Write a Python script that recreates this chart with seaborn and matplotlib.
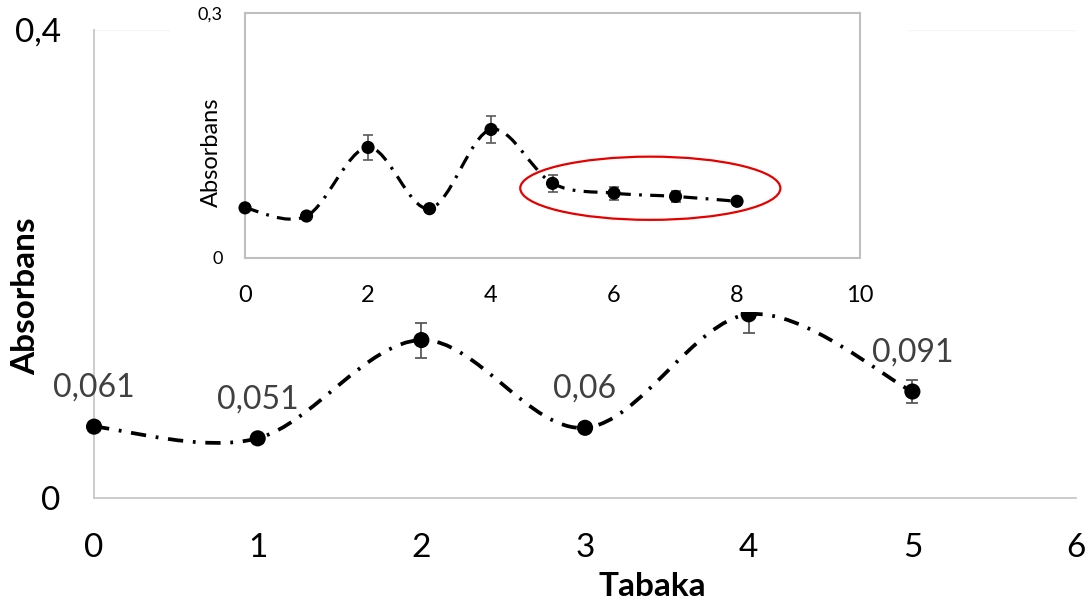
import matplotlib
matplotlib.use("Agg")
import matplotlib.pyplot as plt
import seaborn as sns
from matplotlib.path import Path
from matplotlib.patches import PathPatch, Ellipse, Rectangle

# main chart data (Tabaka vs Absorbans)
main_x = [0, 1, 2, 3, 4, 5]
main_y = [0.061, 0.051, 0.135, 0.060, 0.157, 0.091]
main_err = [0.004, 0.004, 0.015, 0.004, 0.016, 0.010]
main_show_label = [True, True, False, True, False, True]
main_xticks = [0, 1, 2, 3, 4, 5, 6]
main_yticks = [0, 0.4]
main_yticklabels = ["0", "0,4"]

# inset chart data
ins_x = [0, 1, 2, 3, 4, 5, 6, 7, 8]
ins_y = [0.061, 0.051, 0.135, 0.060, 0.157, 0.091, 0.079, 0.075, 0.069]
ins_err = [0.003, 0.003, 0.015, 0.003, 0.017, 0.010, 0.008, 0.007, 0.004]
ins_xticks = [0, 2, 4, 6, 8, 10]
ins_yticks = [0, 0.3]
ins_yticklabels = ["0", "0,3"]


def smooth_path(xs, ys):
    # Excel style smoothed line as cubic bezier segments
    pts = list(zip(xs, ys))
    n = len(pts)
    verts = [pts[0]]
    codes = [Path.MOVETO]
    for i in range(n - 1):
        p0 = pts[max(i - 1, 0)]
        p1 = pts[i]
        p2 = pts[i + 1]
        p3 = pts[min(i + 2, n - 1)]
        c1 = (p1[0] + (p2[0] - p0[0]) / 6, p1[1] + (p2[1] - p0[1]) / 6)
        c2 = (p2[0] - (p3[0] - p1[0]) / 6, p2[1] - (p3[1] - p1[1]) / 6)
        verts += [c1, c2, p2]
        codes += [Path.CURVE4] * 3
    return Path(verts, codes)


sns.set_theme(style="white")
plt.rcParams["font.family"] = ["Lato", "DejaVu Sans"]
plt.rcParams["lines.scale_dashes"] = False

fig = plt.figure(figsize=(10.91, 6.06), dpi=100)

# ---------------- main axes ----------------
ax = fig.add_axes([0.0862, 0.1782, 0.9001, 0.7723])
ax.set_xlim(0, 6)
ax.set_ylim(0, 0.4)
ax.axhline(0.4, color="#f6f6f6", lw=1, zorder=0)

ax.add_patch(PathPatch(smooth_path(main_x, main_y), fill=False, ec="black",
                       lw=2.7, linestyle=(0, (11, 7, 2, 7)), zorder=3))
ax.errorbar(main_x, main_y, yerr=main_err, fmt="none", ecolor="#595959",
            elinewidth=1.3, capsize=4, capthick=1.3, zorder=2)
sns.scatterplot(x=main_x, y=main_y, ax=ax, color="black", s=135,
                edgecolor="none", zorder=4, legend=False, clip_on=False)

for xv, yv, show in zip(main_x, main_y, main_show_label):
    if show:
        ax.annotate(f"{yv:g}".replace(".", ","), (xv, yv), xytext=(0, 28),
                    textcoords="offset points", ha="center", va="center",
                    fontsize=23, color="#404040")

ax.set_xticks(main_xticks)
ax.set_xticklabels([str(t) for t in main_xticks])
ax.set_yticks(main_yticks)
ax.set_yticklabels(main_yticklabels)
ax.tick_params(axis="x", length=0, pad=25, labelsize=24, colors="black")
ax.tick_params(axis="y", length=0, pad=24, labelsize=24, colors="black")
for side in ["top", "right"]:
    ax.spines[side].set_visible(False)
for side in ["left", "bottom"]:
    ax.spines[side].set_color("#c8c8c8")
    ax.spines[side].set_linewidth(1.3)
ax.set_xlabel("")
ax.set_ylabel("")

fig.text(652 / 1091, 1 - 586 / 606, "Tabaka", ha="center", va="center",
         fontsize=24, fontweight="bold", color="black")
fig.text(26 / 1091, 1 - 296 / 606, "Absorbans", ha="center", va="center",
         rotation=90, fontsize=24, fontweight="bold", color="black")

# white area behind the inset
fig.add_artist(Rectangle((0.1558, 0.4851), 0.6764, 0.5149,
                         transform=fig.transFigure, facecolor="white",
                         edgecolor="none", zorder=1))

# ---------------- inset axes ----------------
ins = fig.add_axes([0.2246, 0.5748, 0.5637, 0.4043], zorder=2)
ins.set_facecolor("white")
ins.set_xlim(0, 10)
ins.set_ylim(0, 0.3)

ins.add_patch(PathPatch(smooth_path(ins_x, ins_y), fill=False, ec="black",
                        lw=2.3, linestyle=(0, (10, 6, 2, 6)), zorder=3))
ins.errorbar(ins_x, ins_y, yerr=ins_err, fmt="none", ecolor="#595959",
             elinewidth=1.2, capsize=3.5, capthick=1.2, zorder=2)
sns.scatterplot(x=ins_x, y=ins_y, ax=ins, color="black", s=90,
                edgecolor="none", zorder=4, legend=False, clip_on=False)

ins.add_patch(Ellipse((6.59, 0.085), 4.23, 0.0774, fill=False,
                      ec="#e60000", lw=1.6, zorder=5))

ins.set_xticks(ins_xticks)
ins.set_xticklabels([str(t) for t in ins_xticks])
ins.set_yticks(ins_yticks)
ins.set_yticklabels(ins_yticklabels)
ins.tick_params(axis="x", length=0, pad=20, labelsize=17, colors="black")
ins.tick_params(axis="y", length=0, pad=16, labelsize=13, colors="black")
for side in ins.spines:
    ins.spines[side].set_visible(True)
    ins.spines[side].set_color("#bfbfbf")
    ins.spines[side].set_linewidth(1.5)
ins.set_xlabel("")
ins.set_ylabel("")
fig.text(211 / 1091, 1 - 152 / 606, "Absorbans", ha="center", va="center",
         rotation=90, fontsize=17, color="black")

fig.savefig("out.png", dpi=100)
